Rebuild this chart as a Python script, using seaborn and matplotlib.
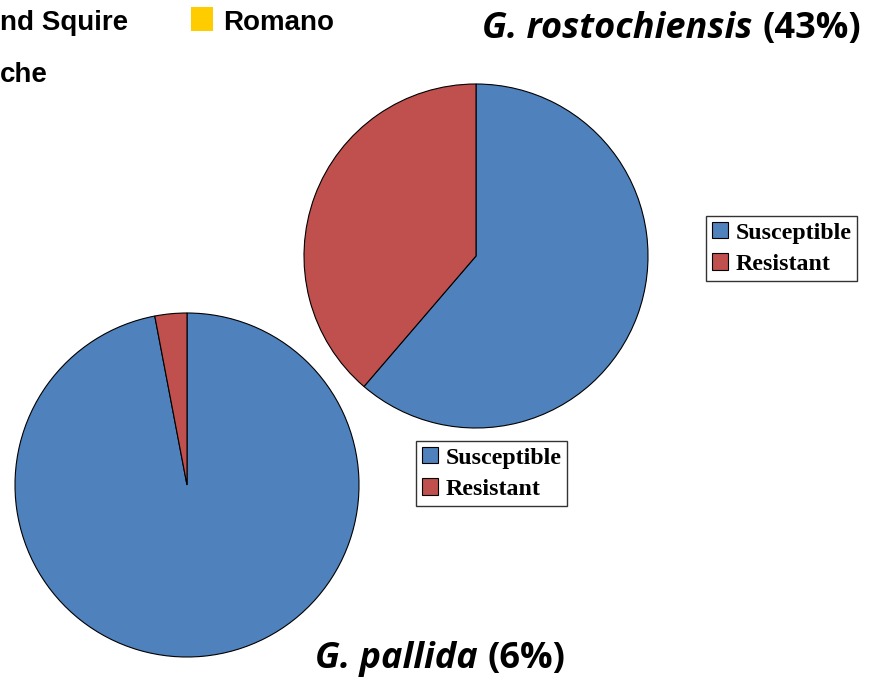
import matplotlib
matplotlib.use("Agg")
import matplotlib.pyplot as plt
import seaborn as sns

# ---- data ----
categories = ["Susceptible", "Resistant"]
rosto_values = [19, 12]      # G. rostochiensis
pallida_values = [97, 3]     # G. pallida
species = ["G. rostochiensis", "G. pallida"]
species_pct = ["(43%)", "(6%)"]
partial_legend = ["nd Squire", "Romano", "che"]

colors = ["#4F81BD", "#C0504D"]
yellow = "#FFCC00"

sns.set_theme(style="white")
plt.rcParams["font.family"] = ["DejaVu Sans"]
plt.rcParams["text.color"] = "black"

W, H = 886, 682
fig = plt.figure(figsize=(W / 100, H / 100), dpi=100)
ax = fig.add_axes([0, 0, 1, 1])

wedge_kw = dict(edgecolor="black", linewidth=0.8)
w1, _ = ax.pie(rosto_values, colors=colors, startangle=90, counterclock=False,
               center=(476, H - 256), radius=172, wedgeprops=wedge_kw)
w2, _ = ax.pie(pallida_values, colors=colors, startangle=90, counterclock=False,
               center=(187, H - 485), radius=172, wedgeprops=wedge_kw)
ax.set_xlim(0, W)
ax.set_ylim(0, H)
ax.set_aspect("equal")
ax.axis("off")

leg_font = dict(family=["Liberation Serif"], weight="bold", size=17.2)
leg_kw = dict(loc="upper left", bbox_transform=fig.transFigure, frameon=True,
              fancybox=False, edgecolor="black", prop=leg_font,
              handlelength=0.68, handleheight=0.68, handletextpad=0.3,
              labelspacing=0.4, borderpad=0.25, borderaxespad=0,
              labelcolor="black")
leg1 = ax.legend(w1, categories, bbox_to_anchor=(706 / W, 1 - 216 / H), **leg_kw)
leg1.get_frame().set_linewidth(1.0)
ax.add_artist(leg1)
leg2 = ax.legend(w2, categories, bbox_to_anchor=(416 / W, 1 - 441 / H), **leg_kw)
leg2.get_frame().set_linewidth(1.0)
for lg in (leg1, leg2):
    for h in lg.legend_handles:
        h.set_edgecolor("black")
        h.set_linewidth(0.8)

# ---- titles (bold italic species + bold percentage) ----
title_fam = ["Open Sans", "DejaVu Sans"]
fig.canvas.draw()
r = fig.canvas.get_renderer()

def title(x_left, y_base, sp, pct, size):
    t1 = ax.text(x_left, H - y_base, sp, ha="left", va="baseline",
                 style="italic", weight="bold", family=title_fam, size=size,
                 color="black")
    bb = t1.get_window_extent(renderer=r)
    ax.text(bb.x1 + 10, H - y_base, pct, ha="left", va="baseline",
            weight="bold", family=title_fam, size=size, color="black")

title(482, 38, species[0], species_pct[0], 26)
title(315, 668, species[1], species_pct[1], 26)

# ---- partial legend at top-left (cut off in the original) ----
pl_font = dict(family=["Liberation Sans"], weight="bold", size=20, color="black")
ax.text(0, H - 30, partial_legend[0], ha="left", va="baseline", **pl_font)
ax.add_patch(plt.Rectangle((191, H - 30.5), 22.5, 24, facecolor=yellow, edgecolor="none"))
ax.text(223, H - 30, partial_legend[1], ha="left", va="baseline", **pl_font)
ax.text(0, H - 82, partial_legend[2], ha="left", va="baseline", **pl_font)

fig.savefig("out.png", dpi=100, facecolor="white")
